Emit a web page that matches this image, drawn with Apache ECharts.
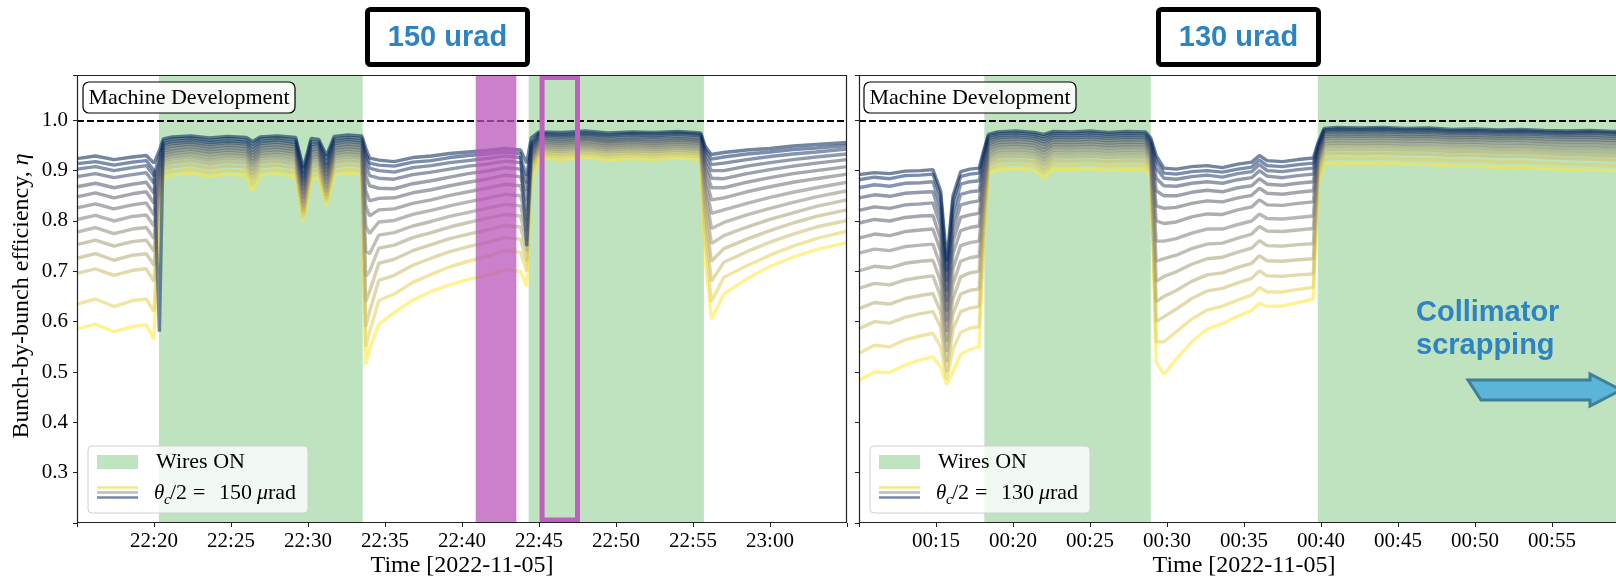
<!DOCTYPE html>
<html>
<head>
<meta charset="utf-8">
<script src="https://cdn.jsdelivr.net/npm/echarts@6/dist/echarts.min.js"></script>
<style>
  html, body { margin: 0; padding: 0; background: #fff; }
  #main { width: 1616px; height: 582px; }
</style>
</head>
<body>
<div id="main"></div>
<script>
// time axis: minutes after 22:00 (left) and after 00:00 (right)
const timeLeft = [15, 16.2, 17.4, 18.6, 19.5, 20.0, 20.35, 20.6, 21.2, 22.4, 23.6, 24.8, 26.0, 26.4, 26.9, 28.0, 29.2, 29.7, 30.2, 30.7,
  31.2, 31.7, 32.6, 33.5, 33.75, 34.0, 34.6, 35.6, 36.8, 38.0, 39.2, 40.4, 41.6, 42.8, 43.8, 44.2, 44.5, 45.0, 46.5, 48.0,
  49.5, 51.0, 52.5, 54.0, 55.5, 55.8, 56.2, 57.0, 58.5, 60.0, 61.5, 63.0, 65.0];
const timeRight = [10, 11, 12, 13, 14, 14.8, 15.3, 15.7, 16.1, 16.6, 17.2, 17.8, 18.1, 18.4, 19, 20.2, 21.4, 22.0, 22.6, 23.8,
  25, 26.2, 27.4, 28.6, 28.95, 29.3, 29.8, 30.6, 31.6, 32.6, 33.6, 34.6, 35.5, 36.0, 36.5, 37.5, 38.5, 39.5, 39.8, 40.2,
  41, 42.5, 44, 45.5, 47, 48.5, 50, 51.5, 53, 54.5, 56, 57.5, 59, 60];

// bunch-by-bunch efficiency, one row per bunch group (dark blue -> yellow)
const effLeft = [
  [0.924,0.929,0.922,0.927,0.93,0.915,0.94, 0.963,0.967,0.969,0.965,0.968,0.966,0.958,0.967,0.969,0.966,0.905,0.964,0.962,0.93,0.968,0.971,0.969, 0.945,0.925, 0.921,0.918,0.926,0.929,0.934,0.937,0.94,0.944,0.941, 0.915,0.965, 0.977,0.976,0.979,0.975,0.977,0.976,0.978,0.975, 0.948,0.932, 0.936,0.941,0.944,0.949,0.952,0.956],
  [0.914,0.918,0.911,0.917,0.92,0.9,0.58, 0.958,0.963,0.965,0.96,0.964,0.961,0.952,0.963,0.965,0.961,0.895,0.958,0.957,0.922,0.963,0.966,0.964, 0.935,0.915, 0.911,0.909,0.917,0.92,0.926,0.93,0.933,0.937,0.934, 0.75,0.955, 0.974,0.972,0.975,0.971,0.974,0.973,0.975,0.972, 0.942,0.923, 0.927,0.933,0.937,0.942,0.945,0.95],
  [0.903,0.908,0.9,0.906,0.91,0.89,0.93, 0.953,0.958,0.961,0.956,0.959,0.957,0.946,0.958,0.961,0.956,0.885,0.952,0.953,0.912,0.958,0.962,0.959, 0.925,0.905, 0.9,0.897,0.906,0.91,0.916,0.92,0.924,0.929,0.926, 0.89,0.95, 0.971,0.969,0.972,0.968,0.971,0.969,0.972,0.969, 0.935,0.912, 0.915,0.922,0.928,0.933,0.937,0.943],
  [0.888,0.894,0.886,0.892,0.896,0.875,0.92, 0.949,0.954,0.957,0.952,0.956,0.953,0.94,0.954,0.957,0.952,0.878,0.947,0.949,0.905,0.954,0.958,0.955, 0.91,0.89, 0.885,0.883,0.892,0.897,0.903,0.909,0.913,0.919,0.916, 0.875,0.945, 0.968,0.966,0.969,0.964,0.967,0.966,0.968,0.965, 0.925,0.9, 0.9,0.909,0.916,0.922,0.927,0.933],
  [0.868,0.875,0.866,0.873,0.877,0.855,0.91, 0.944,0.949,0.953,0.947,0.951,0.948,0.934,0.949,0.952,0.947,0.87,0.941,0.944,0.898,0.949,0.953,0.95, 0.89,0.87, 0.865,0.864,0.874,0.88,0.887,0.894,0.899,0.906,0.903, 0.86,0.94, 0.964,0.962,0.965,0.96,0.963,0.962,0.964,0.961, 0.915,0.885, 0.884,0.894,0.902,0.909,0.915,0.922],
  [0.848,0.856,0.846,0.854,0.858,0.835,0.9, 0.939,0.944,0.948,0.942,0.946,0.943,0.928,0.944,0.947,0.942,0.862,0.936,0.939,0.89,0.944,0.948,0.945, 0.86,0.84, 0.845,0.846,0.856,0.862,0.87,0.877,0.883,0.891,0.888, 0.84,0.935, 0.961,0.958,0.962,0.957,0.96,0.958,0.961,0.958, 0.905,0.866, 0.866,0.877,0.886,0.894,0.9,0.908],
  [0.826,0.834,0.824,0.832,0.836,0.812,0.89, 0.934,0.939,0.943,0.937,0.941,0.938,0.922,0.939,0.942,0.937,0.853,0.93,0.934,0.882,0.939,0.943,0.94, 0.83,0.81, 0.822,0.824,0.835,0.842,0.851,0.858,0.865,0.873,0.87, 0.82,0.93, 0.957,0.954,0.958,0.953,0.956,0.954,0.957,0.954, 0.89,0.842, 0.846,0.858,0.868,0.877,0.884,0.893],
  [0.803,0.811,0.8,0.809,0.812,0.79,0.88, 0.929,0.934,0.938,0.932,0.936,0.933,0.916,0.934,0.937,0.932,0.845,0.925,0.929,0.874,0.934,0.938,0.935, 0.79,0.775, 0.798,0.801,0.813,0.821,0.83,0.838,0.845,0.853,0.85, 0.8,0.925, 0.953,0.95,0.954,0.949,0.952,0.95,0.953,0.95, 0.875,0.815, 0.822,0.835,0.847,0.857,0.866,0.877],
  [0.778,0.787,0.775,0.784,0.787,0.765,0.87, 0.924,0.929,0.933,0.926,0.931,0.928,0.91,0.929,0.932,0.926,0.836,0.92,0.924,0.866,0.929,0.933,0.93, 0.74,0.735, 0.772,0.777,0.79,0.799,0.809,0.817,0.825,0.833,0.83, 0.78,0.92, 0.949,0.946,0.95,0.945,0.948,0.946,0.949,0.946, 0.86,0.785, 0.797,0.812,0.825,0.837,0.848,0.86],
  [0.753,0.762,0.75,0.759,0.762,0.74,0.86, 0.918,0.923,0.927,0.92,0.925,0.922,0.902,0.923,0.926,0.92,0.828,0.914,0.918,0.858,0.923,0.927,0.924, 0.69,0.7, 0.746,0.752,0.767,0.777,0.788,0.797,0.805,0.813,0.81, 0.76,0.915, 0.945,0.942,0.946,0.941,0.944,0.942,0.945,0.942, 0.84,0.755, 0.771,0.788,0.803,0.816,0.829,0.842],
  [0.726,0.735,0.722,0.732,0.735,0.712,0.85, 0.911,0.916,0.92,0.913,0.918,0.915,0.893,0.916,0.919,0.913,0.82,0.906,0.911,0.851,0.916,0.92,0.917, 0.64,0.66, 0.716,0.724,0.741,0.753,0.765,0.774,0.782,0.791,0.788, 0.74,0.91, 0.941,0.938,0.942,0.937,0.94,0.938,0.941,0.938, 0.815,0.72, 0.745,0.764,0.781,0.796,0.809,0.822],
  [0.696,0.705,0.692,0.702,0.705,0.68,0.84, 0.903,0.908,0.912,0.905,0.91,0.907,0.884,0.908,0.911,0.905,0.812,0.898,0.903,0.844,0.908,0.912,0.909, 0.59,0.62, 0.682,0.692,0.712,0.726,0.739,0.749,0.757,0.767,0.764, 0.72,0.9, 0.936,0.933,0.937,0.932,0.935,0.933,0.936,0.933, 0.79,0.68, 0.718,0.739,0.758,0.774,0.788,0.801],
  [0.635,0.645,0.63,0.642,0.645,0.62,0.83, 0.894,0.899,0.903,0.896,0.901,0.898,0.872,0.899,0.902,0.896,0.806,0.889,0.894,0.838,0.899,0.903,0.9, 0.55,0.58, 0.642,0.655,0.678,0.694,0.709,0.72,0.729,0.741,0.738, 0.7,0.89, 0.931,0.928,0.932,0.927,0.93,0.928,0.931,0.928, 0.76,0.64, 0.688,0.711,0.732,0.75,0.765,0.78],
  [0.585,0.595,0.58,0.59,0.594,0.565,0.82, 0.886,0.891,0.895,0.888,0.893,0.89,0.858,0.891,0.894,0.888,0.8,0.881,0.886,0.832,0.891,0.895,0.892, 0.515,0.545, 0.595,0.618,0.643,0.66,0.673,0.684,0.692,0.703,0.7, 0.67,0.88, 0.925,0.922,0.926,0.921,0.924,0.922,0.925,0.922, 0.72,0.605, 0.655,0.685,0.71,0.728,0.743,0.757]
];

const effRight = [
  [0.892,0.896,0.894,0.899,0.9,0.902, 0.86,0.72,0.85, 0.898,0.903,0.905, 0.94,0.972, 0.977,0.979,0.976,0.972,0.978,0.977,0.979,0.976,0.978,0.977, 0.965,0.93, 0.905,0.903,0.908,0.91,0.906,0.913,0.917,0.93,0.92,0.918,0.922,0.925, 0.955, 0.984,0.986,0.985,0.986,0.984,0.985,0.982,0.983,0.981,0.982,0.98,0.979,0.98,0.978,0.977],
  [0.882,0.887,0.884,0.89,0.891,0.893, 0.85,0.7,0.84, 0.888,0.893,0.895, 0.935,0.968, 0.973,0.975,0.972,0.967,0.974,0.973,0.975,0.972,0.974,0.973, 0.96,0.92, 0.895,0.893,0.898,0.9,0.897,0.903,0.907,0.921,0.91,0.908,0.912,0.915, 0.95, 0.981,0.983,0.982,0.983,0.981,0.982,0.979,0.98,0.978,0.979,0.977,0.976,0.977,0.975,0.974],
  [0.866,0.872,0.869,0.875,0.876,0.878, 0.83,0.68,0.82, 0.873,0.878,0.88, 0.925,0.963, 0.969,0.971,0.968,0.962,0.97,0.969,0.971,0.968,0.97,0.969, 0.955,0.905, 0.885,0.883,0.888,0.891,0.887,0.894,0.898,0.912,0.9,0.898,0.902,0.905, 0.945, 0.978,0.98,0.979,0.98,0.978,0.979,0.976,0.977,0.975,0.976,0.974,0.973,0.974,0.972,0.971],
  [0.846,0.852,0.849,0.855,0.857,0.858, 0.81,0.66,0.8, 0.853,0.858,0.86, 0.915,0.958, 0.965,0.967,0.964,0.957,0.966,0.965,0.967,0.964,0.966,0.965, 0.95,0.885, 0.87,0.869,0.875,0.878,0.875,0.882,0.886,0.9,0.889,0.886,0.89,0.893, 0.94, 0.975,0.977,0.976,0.977,0.975,0.976,0.973,0.974,0.972,0.973,0.971,0.97,0.97,0.968,0.967],
  [0.821,0.828,0.825,0.832,0.834,0.836, 0.79,0.64,0.78, 0.832,0.837,0.84, 0.905,0.953, 0.961,0.963,0.96,0.952,0.962,0.961,0.963,0.96,0.962,0.961, 0.945,0.86, 0.85,0.85,0.857,0.861,0.858,0.866,0.87,0.884,0.873,0.871,0.875,0.878, 0.935, 0.971,0.973,0.972,0.973,0.971,0.972,0.969,0.97,0.968,0.969,0.967,0.966,0.966,0.964,0.963],
  [0.796,0.803,0.8,0.807,0.81,0.811, 0.765,0.62,0.76, 0.807,0.812,0.815, 0.89,0.948, 0.956,0.958,0.955,0.946,0.957,0.956,0.958,0.955,0.957,0.956, 0.94,0.83, 0.825,0.827,0.835,0.84,0.838,0.846,0.851,0.865,0.855,0.853,0.857,0.86, 0.93, 0.967,0.969,0.968,0.969,0.967,0.968,0.965,0.966,0.964,0.965,0.963,0.962,0.962,0.96,0.958],
  [0.766,0.774,0.771,0.779,0.782,0.784, 0.74,0.6,0.735, 0.781,0.787,0.79, 0.875,0.942, 0.951,0.953,0.95,0.94,0.952,0.951,0.953,0.95,0.952,0.951, 0.935,0.8, 0.795,0.798,0.808,0.814,0.813,0.822,0.828,0.842,0.832,0.831,0.835,0.838, 0.925, 0.963,0.965,0.964,0.965,0.963,0.964,0.961,0.962,0.96,0.961,0.958,0.957,0.957,0.955,0.953],
  [0.736,0.744,0.741,0.749,0.752,0.754, 0.71,0.58,0.705, 0.751,0.757,0.76, 0.86,0.936, 0.946,0.948,0.945,0.934,0.947,0.946,0.948,0.945,0.947,0.946, 0.93,0.76, 0.76,0.765,0.776,0.784,0.784,0.793,0.8,0.814,0.805,0.804,0.807,0.81, 0.92, 0.958,0.96,0.959,0.96,0.958,0.959,0.956,0.957,0.955,0.955,0.953,0.951,0.951,0.949,0.947],
  [0.701,0.71,0.707,0.716,0.72,0.722, 0.68,0.56,0.675, 0.72,0.727,0.73, 0.845,0.93, 0.94,0.942,0.939,0.927,0.941,0.94,0.942,0.939,0.941,0.94, 0.925,0.72, 0.725,0.732,0.745,0.754,0.756,0.766,0.774,0.789,0.78,0.779,0.782,0.785, 0.915, 0.953,0.955,0.954,0.955,0.953,0.954,0.951,0.952,0.949,0.95,0.947,0.945,0.945,0.943,0.941],
  [0.666,0.676,0.673,0.683,0.688,0.691, 0.65,0.54,0.645, 0.689,0.697,0.7, 0.83,0.924, 0.934,0.936,0.933,0.92,0.935,0.934,0.936,0.933,0.935,0.934, 0.92,0.68, 0.69,0.699,0.714,0.725,0.728,0.738,0.746,0.761,0.751,0.75,0.753,0.755, 0.91, 0.948,0.95,0.949,0.95,0.948,0.948,0.945,0.946,0.943,0.944,0.941,0.939,0.938,0.936,0.934],
  [0.626,0.638,0.635,0.646,0.652,0.656, 0.62,0.52,0.615, 0.655,0.662,0.665, 0.81,0.917, 0.927,0.929,0.926,0.912,0.928,0.927,0.929,0.926,0.928,0.927, 0.912,0.64, 0.65,0.662,0.68,0.693,0.697,0.708,0.716,0.731,0.721,0.72,0.723,0.725, 0.9, 0.941,0.943,0.942,0.943,0.941,0.941,0.938,0.939,0.936,0.937,0.934,0.932,0.931,0.929,0.927],
  [0.586,0.6,0.597,0.609,0.616,0.62, 0.59,0.5,0.585, 0.62,0.627,0.63, 0.79,0.91, 0.919,0.921,0.918,0.903,0.92,0.919,0.921,0.918,0.92,0.919, 0.905,0.6, 0.61,0.625,0.646,0.661,0.666,0.677,0.686,0.701,0.691,0.69,0.693,0.695, 0.89, 0.933,0.935,0.934,0.935,0.933,0.933,0.93,0.931,0.928,0.929,0.926,0.924,0.923,0.921,0.919],
  [0.537,0.553,0.55,0.564,0.572,0.577, 0.55,0.485,0.545, 0.579,0.587,0.59, 0.77,0.902, 0.911,0.913,0.91,0.895,0.912,0.911,0.913,0.91,0.912,0.911, 0.895,0.56, 0.56,0.58,0.605,0.623,0.631,0.643,0.653,0.668,0.659,0.659,0.664,0.668, 0.88, 0.923,0.925,0.924,0.925,0.923,0.922,0.92,0.92,0.917,0.918,0.915,0.913,0.912,0.91,0.909],
  [0.483,0.5,0.499,0.514,0.524,0.53, 0.51,0.475,0.5, 0.535,0.545,0.55, 0.75,0.893, 0.902,0.904,0.9,0.886,0.903,0.902,0.904,0.9,0.903,0.902, 0.885,0.52, 0.495,0.525,0.56,0.585,0.596,0.611,0.622,0.637,0.63,0.631,0.638,0.645, 0.87, 0.913,0.915,0.914,0.915,0.913,0.912,0.909,0.909,0.906,0.907,0.904,0.902,0.901,0.9,0.9]
];

// shaded periods [start, end] in axis minutes
const wiresLeft = [[20.32, 33.55], [44.33, 55.71]];
const wiresRight = [[18.14, 28.95], [39.79, 60]];
const highlightFill = [40.89, 43.53];
const highlightBox = [45.2, 47.5, 0.206, 1.085];
const yTicks = [0.3, 0.4, 0.5, 0.6, 0.7, 0.8, 0.9, 1.0];

const palette = ['#00224e', '#0d306b', '#233e6c', '#39486b', '#4a546c', '#5b5f6e', '#6b6b70',
  '#7c7b78', '#8e8a78', '#a09a76', '#b5aa70', '#cbbb67', '#e3cf56', '#fde737'];

const SERIF = "'Liberation Serif', 'DejaVu Serif', serif";
const SANS = "'Liberation Sans', Arial, sans-serif";
const BLUE_TXT = '#2e84c2';

const chart = echarts.init(document.getElementById('main'));

const pad = n => (n < 10 ? '0' : '') + n;
const clock = (offsetH, lo, hi) => v => {
  if (v < lo - 1e-6 || v > hi + 1e-6) return '';
  const h = offsetH + Math.floor(v / 60), m = Math.round(v % 60);
  return pad(h % 24) + ':' + pad(m);
};

function xAxisCfg(idx, min, max, fmt) {
  return {
    type: 'value', gridIndex: idx, min: min, max: max, interval: 5,
    axisLine: { show: false },
    axisTick: { show: true, length: 4, lineStyle: { color: '#222', width: 1 } },
    axisLabel: { formatter: fmt, fontFamily: SERIF, fontSize: 21, color: '#000', margin: 8 },
    splitLine: { show: false }
  };
}
function yAxisCfg(idx, labels) {
  return {
    type: 'value', gridIndex: idx, min: 0.2, max: 1.09, interval: 0.1,
    axisLine: { show: false },
    axisTick: { show: true, length: 4, lineStyle: { color: '#222', width: 1 } },
    axisLabel: {
      show: labels, fontFamily: SERIF, fontSize: 21, color: '#000', margin: 9,
      formatter: v => (yTicks.some(t => Math.abs(t - v) < 1e-6) ? v.toFixed(1) : '')
    },
    splitLine: { show: false }
  };
}

function bunchSeries(times, rows, axis) {
  const out = [];
  for (let i = rows.length - 1; i >= 0; i--) {
    out.push({
      type: 'line', xAxisIndex: axis, yAxisIndex: axis, silent: true,
      data: times.map((t, k) => [t, rows[i][k]]),
      showSymbol: false, symbol: 'none',
      lineStyle: { color: palette[i], width: 3.4, opacity: 0.55 }, z: 2
    });
  }
  return out;
}

function backSeries(axis, spans) {
  return {
    type: 'line', xAxisIndex: axis, yAxisIndex: axis, data: [], silent: true,
    markArea: {
      silent: true, itemStyle: { color: 'rgba(44,160,44,0.3)' },
      data: spans.map(s => [{ xAxis: s[0] }, { xAxis: s[1] }])
    },
    markLine: {
      silent: true, symbol: ['none', 'none'], label: { show: false },
      lineStyle: { color: '#000', type: [7, 3], width: 2 },
      data: [{ yAxis: 1.0 }]
    }
  };
}

const magentaSeries = {
  type: 'line', xAxisIndex: 0, yAxisIndex: 0, data: [], silent: true,
  markArea: {
    z: 10, silent: true,
    data: [
      [{ xAxis: highlightFill[0], itemStyle: { color: 'rgba(186,85,186,0.75)' } }, { xAxis: highlightFill[1] }],
      [{ xAxis: highlightBox[0], yAxis: highlightBox[3],
         itemStyle: { color: 'rgba(0,0,0,0)', borderColor: '#bf5fbf', borderWidth: 5 } },
       { xAxis: highlightBox[1], yAxis: highlightBox[2] }]
    ]
  }
};

// legend / annotation graphics
function legend(dx, angle) {
  const t = (x, y, text, size, extra) => ({
    type: 'text', z: 100, style: Object.assign({
      x: x + dx, y: y, text: text, font: size + 'px ' + SERIF, fill: '#000',
      align: 'left', verticalAlign: 'middle', textAlign: 'left', textVerticalAlign: 'middle'
    }, extra || {})
  });
  const ln = (y, c) => ({ type: 'line', z: 100, shape: { x1: 97 + dx, y1: y, x2: 138 + dx, y2: y },
    style: { stroke: c, lineWidth: 2.5 } });
  return [
    { type: 'rect', z: 99, shape: { x: 88 + dx, y: 446, width: 220, height: 67, r: 4 },
      style: { fill: 'rgba(255,255,255,0.8)', stroke: '#d0d0d0', lineWidth: 1 } },
    { type: 'rect', z: 100, shape: { x: 97 + dx, y: 455, width: 41, height: 14 }, style: { fill: '#c0e3c0' } },
    t(156, 462, 'Wires ON', 22),
    ln(487.5, '#f6e68c'), ln(492.5, '#bdbdbd'), ln(497.5, '#7886a4'),
    t(154, 493, 'θ', 21, { font: 'italic 21px ' + SERIF }),
    t(164, 500, 'c', 15, { font: 'italic 15px ' + SERIF }),
    t(170, 493, '/2', 22),
    t(193, 493, '=', 22),
    t(219, 493, angle, 22),
    t(257, 493, 'μ', 22, { font: 'italic 22px ' + SERIF }),
    t(268, 493, 'rad', 22)
  ];
}
function mdBox(x) {
  return [
    { type: 'rect', z: 100, shape: { x: x, y: 82, width: 212, height: 31, r: 6 },
      style: { fill: 'rgba(255,255,255,0.85)', stroke: '#000', lineWidth: 1.2 } },
    { type: 'text', z: 101, style: { x: x + 106, y: 98, text: 'Machine Development', font: '22px ' + SERIF,
      fill: '#000', align: 'center', verticalAlign: 'middle', textAlign: 'center', textVerticalAlign: 'middle' } }
  ];
}
function titleBox(x, text) {
  return [
    { type: 'rect', z: 100, shape: { x: x + 2.5, y: 9.5, width: 160, height: 55, r: 3 },
      style: { fill: '#fff', stroke: '#000', lineWidth: 5 } },
    { type: 'text', z: 101, style: { x: x + 82.5, y: 38, text: text, font: 'bold 29px ' + SANS,
      fill: BLUE_TXT, align: 'center', verticalAlign: 'middle', textAlign: 'center', textVerticalAlign: 'middle' } }
  ];
}
const axisTitle = (x, y, text, rot) => ({
  type: 'text', z: 100, x: x, y: y, rotation: rot || 0,
  style: { x: 0, y: 0, text: text, font: '24px ' + SERIF, fill: '#000',
    align: 'center', verticalAlign: 'middle', textAlign: 'center', textVerticalAlign: 'middle' }
});

const graphics = [].concat(
  titleBox(365, '150 urad'), titleBox(1156, '130 urad'),
  mdBox(83), mdBox(864),
  legend(0, '150'), legend(782, '130'),
  [
    { type: 'rect', z: 98, shape: { x: 77.5, y: 75.5, width: 769, height: 447 },
      style: { fill: 'none', stroke: '#222', lineWidth: 1.2 } },
    { type: 'rect', z: 98, shape: { x: 859.5, y: 75.5, width: 780, height: 447 },
      style: { fill: 'none', stroke: '#222', lineWidth: 1.2 } },
    axisTitle(462, 566, 'Time [2022-11-05]'),
    axisTitle(1244, 566, 'Time [2022-11-05]'),
    {
      type: 'text', z: 100, x: 22, y: 296, rotation: Math.PI / 2,
      style: { x: 0, y: 0, text: 'Bunch-by-bunch efficiency, {i|η}', font: '24px ' + SERIF, fill: '#000',
        align: 'center', verticalAlign: 'middle', textAlign: 'center', textVerticalAlign: 'middle',
        rich: { i: { fontFamily: SERIF, fontSize: 24, fontStyle: 'italic' } } }
    },
    { type: 'text', z: 100, style: { x: 1416, y: 313, text: 'Collimator', font: 'bold 29px ' + SANS, fill: BLUE_TXT,
      align: 'left', verticalAlign: 'middle', textAlign: 'left', textVerticalAlign: 'middle' } },
    { type: 'text', z: 100, style: { x: 1416, y: 346, text: 'scrapping', font: 'bold 29px ' + SANS, fill: BLUE_TXT,
      align: 'left', verticalAlign: 'middle', textAlign: 'left', textVerticalAlign: 'middle' } },
    { type: 'polygon', z: 100,
      shape: { points: [[1468, 380], [1590, 380], [1590, 374], [1621, 390], [1590, 406], [1590, 400], [1481, 400]] },
      style: { fill: '#5bb5d8', stroke: '#3e8099', lineWidth: 3 } }
  ]
);

const option = {
  animation: false,
  backgroundColor: '#fff',
  grid: [
    { left: 77, top: 75, width: 770, height: 448, containLabel: false, outerBoundsMode: 'none' },
    { left: 859, top: 75, width: 770, height: 448, containLabel: false, outerBoundsMode: 'none' }
  ],
  xAxis: [
    xAxisCfg(0, 15, 65, clock(22, 20, 60)),
    xAxisCfg(1, 10, 60, clock(0, 15, 55))
  ],
  yAxis: [yAxisCfg(0, true), yAxisCfg(1, false)],
  series: [].concat(
    [backSeries(0, wiresLeft), backSeries(1, wiresRight)],
    bunchSeries(timeLeft, effLeft, 0),
    bunchSeries(timeRight, effRight, 1),
    [magentaSeries]
  ),
  graphic: graphics
};

chart.setOption(option);
</script>
</body>
</html>
